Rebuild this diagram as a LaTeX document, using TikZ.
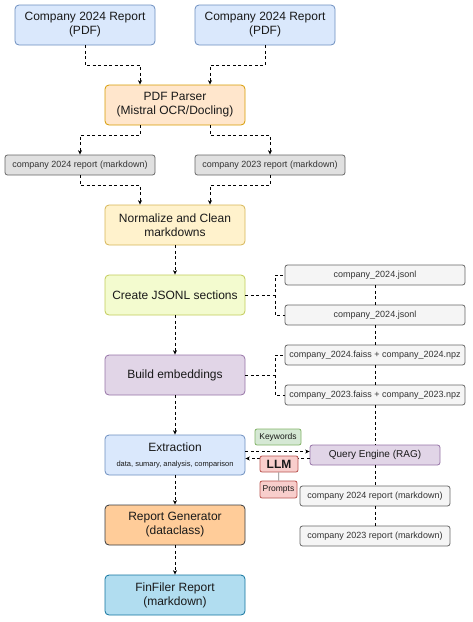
\documentclass[tikz,border=0pt]{standalone}
\usepackage{fontspec}
\setmainfont{Liberation Sans}
\usetikzlibrary{arrows.meta,positioning}

\definecolor{bluefill}{HTML}{DAE8FC}
\definecolor{blueline}{HTML}{6C8EBF}
\definecolor{orfill}{HTML}{FFE6CC}
\definecolor{orline}{HTML}{D79B00}
\definecolor{grayfill}{HTML}{E0E0E0}
\definecolor{grayline}{HTML}{666666}
\definecolor{yelfill}{HTML}{FFF2CC}
\definecolor{yelline}{HTML}{D6B656}
\definecolor{limefill}{HTML}{F3FBCF}
\definecolor{limeline}{HTML}{C2CB58}
\definecolor{purfill}{HTML}{E1D5E7}
\definecolor{purline}{HTML}{9673A6}
\definecolor{lightfill}{HTML}{F5F5F5}
\definecolor{greenfill}{HTML}{D5E8D4}
\definecolor{greenline}{HTML}{82B366}
\definecolor{redfill}{HTML}{F8CECC}
\definecolor{redline}{HTML}{B85450}
\definecolor{peachfill}{HTML}{FFCC99}
\definecolor{darkline}{HTML}{36393D}
\definecolor{skyfill}{HTML}{B1DDF0}
\definecolor{skyline}{HTML}{10739E}

\tikzset{
	stage/.style={draw, rounded corners=4pt, minimum width=140pt, minimum height=40pt,
		align=center, text=black!90, font=\fontsize{12}{14}\selectfont},
	filebox/.style={draw=grayline, fill=lightfill, rounded corners=2.5pt, minimum height=20pt,
		text=black!80, font=\fontsize{9}{11}\selectfont},
	tagbox/.style={draw, rounded corners=2pt, inner sep=1pt, text=black!90,
		font=\fontsize{8.5}{10}\selectfont},
	flow/.style={dash pattern=on 3pt off 2.5pt, -{Stealth[length=4.5pt,width=4pt]}},
	link/.style={dash pattern=on 3pt off 2.5pt}
}

\begin{document}
\begin{tikzpicture}[x=1pt, y=-1pt, line width=0.8pt]
	\useasboundingbox (0,0) rectangle (472,622);

	% Eingaben
	\node[stage, fill=bluefill, draw=blueline] (in1) at (85,25) {Company 2024 Report\\(PDF)};
	\node[stage, fill=bluefill, draw=blueline] (in2) at (265,25) {Company 2024 Report\\(PDF)};

	% Hauptkette
	\node[stage, fill=orfill, draw=orline] (parser) at (175,105) {PDF Parser\\(Mistral OCR/Docling)};
	\node[filebox, fill=grayfill, minimum width=150pt] (md1) at (80,165) {company 2024 report (markdown)};
	\node[filebox, fill=grayfill, minimum width=150pt] (md2) at (270,165) {company 2023 report (markdown)};
	\node[stage, fill=yelfill, draw=yelline] (norm) at (175,225) {Normalize and Clean\\markdowns};
	\node[stage, fill=limefill, draw=limeline] (jsonl) at (175,295) {Create JSONL sections};
	\node[stage, fill=purfill, draw=purline] (embed) at (175,375) {Build embeddings};
	\node[stage, fill=bluefill, draw=blueline] (extr) at (175,455)
		{Extraction\\[1pt]{\fontsize{7.5}{9}\selectfont data, sumary, analysis, comparison}};
	\node[stage, fill=peachfill, draw=darkline] (gen) at (175,525) {Report Generator\\(dataclass)};
	\node[stage, fill=skyfill, draw=skyline] (out) at (175,595) {FinFiler Report\\(markdown)};

	% Dateien rechts
	\node[filebox, minimum width=180pt] (j1) at (375,275) {company\_2024.jsonl};
	\node[filebox, minimum width=180pt] (j2) at (375,315) {company\_2024.jsonl};
	\node[filebox, minimum width=180pt] (f1) at (375,355) {company\_2024.faiss + company\_2024.npz};
	\node[filebox, minimum width=180pt] (f2) at (375,395) {company\_2023.faiss + company\_2023.npz};
	\node[filebox, fill=purfill, draw=purline, minimum width=130pt, text=black!90,
		font=\fontsize{10}{12}\selectfont] (qe) at (375,455) {Query Engine (RAG)};
	\node[filebox, minimum width=150pt] (r1) at (375,496) {company 2024 report (markdown)};
	\node[filebox, minimum width=150pt] (r2) at (375,536) {company 2023 report (markdown)};

	% Verbindungen
	\draw[flow] (in1.south) -- ++(0,20) -| ([xshift=-35pt]parser.north);
	\draw[flow] (in2.south) -- ++(0,20) -| ([xshift=35pt]parser.north);
	\draw[flow] ([xshift=-35pt]parser.south) -- ++(0,10) -| (md1.north);
	\draw[flow] ([xshift=35pt]parser.south) -- ++(0,10) -| (md2.north);
	\draw[flow] (md1.south) -- ++(0,10) -| ([xshift=-35pt]norm.north);
	\draw[flow] (md2.south) -- ++(0,10) -| ([xshift=35pt]norm.north);
	\draw[flow] (norm) -- (jsonl);
	\draw[flow] (jsonl) -- (embed);
	\draw[flow] (embed) -- (extr);
	\draw[flow] (extr) -- (gen);
	\draw[flow] (gen) -- (out);

	\draw[link] (jsonl.east) -- ++(30,0) coordinate (jfork) |- (j1.west);
	\draw[link] (jfork) |- (j2.west);
	\draw[link] (embed.east) -- ++(30,0) coordinate (efork) |- (f1.west);
	\draw[link] (efork) |- (f2.west);
	\draw[link] (j1) -- (j2) -- (f1) -- (f2) -- (qe) -- (r1) -- (r2);

	\draw[flow] ([yshift=3.5pt]extr.east) -- ([yshift=3.5pt]qe.west);
	\draw[flow] ([yshift=-3.5pt]qe.west) -- ([yshift=-3.5pt]extr.east);

	% LLM mit Hinweisen
	\node[tagbox, fill=greenfill, draw=greenline, minimum width=46pt, minimum height=16pt] (kw) at (278,437) {Keywords};
	\node[tagbox, fill=redfill, draw=redline, minimum width=38pt, minimum height=16pt,
		font=\fontsize{12}{14}\selectfont\bfseries] (llm) at (279,464) {LLM};
	\node[tagbox, fill=redfill, draw=redline, minimum width=37pt, minimum height=17pt] (prompts) at (278.5,489.5) {Prompts};
	\draw[gray] (llm) -- (prompts);
\end{tikzpicture}
\end{document}
